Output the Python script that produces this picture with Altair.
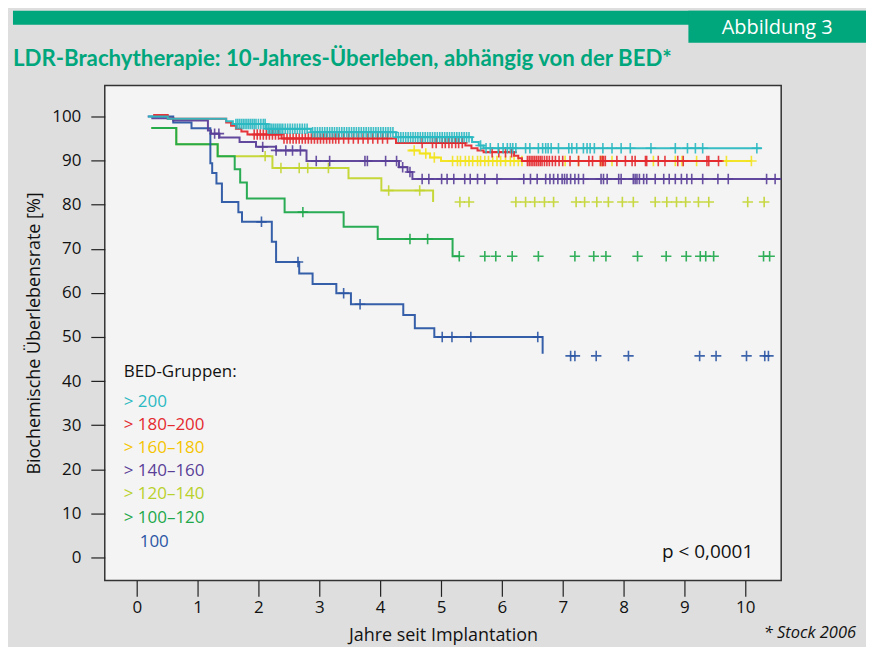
import altair as alt
import pandas as pd

# ---------------- data ----------------
GROUPS = ["> 200", "> 180–200", "> 160–180", "> 140–160", "> 120–140", "> 100–120", "100"]
LINE_COLORS = ["#2bb9c2", "#e42a2f", "#f2e31e", "#5a3f98", "#c3d52f", "#1ea84b", "#2b56a4"]
TEXT_COLORS = ["#2bb9c2", "#e42a2f", "#f5c400", "#5a3f98", "#b9d12b", "#1ea84b", "#2b56a4"]

# Kaplan-Meier step points (time in years, survival in %)
g200_t = [0.19, 0.51, 1.47, 1.58, 2.13, 2.86, 4.26, 5.51, 5.62, 5.70, 10.27]
g200_s = [100, 99.5, 98.9, 98.3, 97.2, 96.4, 95.3, 94.2, 93.4, 92.8, 92.8]
g200_c = {
    98.3: [1.63, 1.66, 1.69, 1.72, 1.75, 1.78, 1.81, 1.84, 1.87, 1.90, 1.93, 1.96, 2.00, 2.04, 2.08, 2.11],
    97.2: [2.16, 2.19, 2.22, 2.25, 2.28, 2.31, 2.34, 2.37, 2.40, 2.44, 2.48, 2.52, 2.56, 2.60, 2.64, 2.68, 2.72, 2.76, 2.80],
    96.4: [2.89, 2.93, 2.97, 3.01, 3.05, 3.09, 3.13, 3.17, 3.21, 3.25, 3.29, 3.33, 3.37, 3.41, 3.45, 3.49, 3.53,
           3.57, 3.61, 3.65, 3.69, 3.73, 3.77, 3.81, 3.85, 3.89, 3.93, 3.97, 4.01, 4.05, 4.09, 4.13, 4.17, 4.21],
    95.3: [4.30, 4.34, 4.38, 4.42, 4.46, 4.50, 4.54, 4.58, 4.62, 4.66, 4.70, 4.74, 4.78, 4.82, 4.86, 4.90, 4.94,
           4.98, 5.02, 5.06, 5.10, 5.14, 5.18, 5.22, 5.26, 5.30, 5.34, 5.38, 5.42, 5.46],
    93.4: [5.65],
    92.8: [5.74, 5.81, 5.94, 6.02, 6.09, 6.14, 6.18, 6.23, 6.39, 6.46, 6.60, 6.67, 6.72, 6.76, 6.81, 6.93, 7.10,
           7.15, 7.23, 7.34, 7.40, 7.45, 7.52, 7.66, 7.81, 7.96, 8.11, 8.45, 8.85, 9.05, 9.18, 9.30, 10.19],
}

g180_t = [0.27, 0.51, 1.47, 1.55, 1.63, 1.72, 1.82, 2.38, 4.26, 5.40, 5.50, 5.60, 5.70, 6.20, 6.27, 6.33, 9.62]
g180_s = [100.3, 99.5, 98.6, 97.9, 97.2, 96.6, 95.9, 95.0, 94.0, 93.4, 92.8, 92.3, 91.9, 91.1, 90.5, 89.9, 89.9]
g180_c = {
    95.9: [1.93, 1.98, 2.03, 2.08, 2.13, 2.18, 2.23, 2.28, 2.33],
    95.0: [2.42, 2.47, 2.52, 2.57, 2.62, 2.67, 2.72, 2.77, 2.82, 2.87, 2.92, 2.97, 3.02, 3.07, 3.12, 3.17, 3.22,
           3.27, 3.32, 3.40, 3.48, 3.56, 3.64, 3.72, 3.80, 3.88, 3.96, 4.04, 4.12],
    94.0: [4.69, 4.86, 4.92, 5.02, 5.07, 5.13, 5.18, 5.24, 5.29, 5.35],
    91.9: [5.84, 5.95, 6.06, 6.16],
    89.9: [6.42, 6.45, 6.48, 6.51, 6.54, 6.57, 6.60, 6.63, 6.66, 6.70, 6.74, 6.78, 6.83, 6.88, 6.94, 7.00, 7.12,
           7.26, 7.43, 7.49, 7.62, 7.65, 7.67, 7.70, 7.89, 8.03, 8.14, 8.19, 8.36, 8.38, 8.57, 8.68, 8.89, 8.98,
           9.37, 9.40, 9.56],
}

g160_t = [4.45, 4.65, 4.82, 5.00, 10.10]
g160_s = [92.3, 91.6, 90.7, 89.9, 89.9]
g160_c = {
    92.3: [4.56],
    91.6: [4.75],
    90.7: [4.89],
    89.9: [5.19, 5.27, 5.32, 5.40, 5.46, 5.52, 5.60, 5.65, 5.72, 5.78, 5.85, 5.92, 5.98, 6.06, 6.14, 6.20, 6.27,
           6.33, 7.04, 7.26, 7.62, 7.65, 7.81, 8.49, 8.85, 8.96, 9.20, 9.69, 10.10],
}

g140_t = [0.24, 0.60, 1.17, 1.22, 1.36, 1.69, 1.96, 2.29, 2.79, 4.31, 4.45, 4.53, 10.65]
g140_s = [99.6, 99.1, 96.8, 96.1, 95.2, 94.2, 93.1, 92.3, 89.9, 88.5, 87.4, 85.8, 85.8]
g140_c = {
    96.1: [1.28, 1.35],
    93.1: [2.07],
    92.3: [2.29, 2.45, 2.56, 2.69],
    89.9: [2.95, 3.17, 3.75, 3.79, 4.09, 4.27],
    88.5: [4.37],
    87.4: [4.49],
    85.8: [4.69, 4.80, 5.01, 5.10, 5.21, 5.39, 5.48, 5.60, 5.72, 5.92, 6.36, 6.47, 6.58, 6.72, 6.79, 6.85, 6.92,
           6.99, 7.03, 7.07, 7.13, 7.20, 7.26, 7.34, 7.63, 7.67, 7.73, 7.92, 7.96, 8.16, 8.19, 8.22, 8.26, 8.33,
           8.38, 8.52, 8.66, 8.75, 8.85, 8.95, 9.04, 9.12, 9.30, 9.55, 9.72, 10.35, 10.49],
}

g120_t = [0.24, 0.65, 1.33, 2.23, 3.48, 4.02, 4.87]
g120_s = [97.4, 93.7, 91.0, 88.3, 86.0, 83.2, 80.6]
g120_c = {
    91.0: [2.11],
    88.3: [2.37, 2.67, 2.81, 3.15],
    83.2: [4.14, 4.65],
    80.6: [5.31, 5.46, 6.23, 6.39, 6.54, 6.70, 6.85, 7.22, 7.36, 7.56, 7.75, 7.98, 8.16, 8.52, 8.71, 8.87, 9.02,
           9.23, 9.40, 10.04, 10.31],
}

g100_t = [0.24, 0.65, 1.33, 1.61, 1.70, 1.81, 2.43, 3.40, 3.96, 5.19, 5.31]
g100_s = [97.4, 93.7, 91.0, 88.0, 85.0, 81.4, 78.3, 75.0, 72.2, 68.3, 68.3]
g100_c = {
    78.3: [2.73],
    72.2: [4.49, 4.78],
    68.3: [5.30, 5.72, 5.90, 6.17, 6.60, 7.20, 7.51, 7.71, 8.23, 8.70, 9.03, 9.26, 9.35, 9.48, 10.30, 10.40],
}

gle100_t = [0.18, 0.60, 0.90, 1.21, 1.24, 1.31, 1.40, 1.67, 1.73, 2.22, 2.29, 2.67, 2.89, 3.28, 3.52, 4.38, 4.57, 4.89, 6.67]
gle100_s = [100, 98.6, 97.3, 89.4, 87.2, 84.8, 80.6, 78.3, 76.1, 71.6, 67.0, 64.4, 62.0, 59.9, 57.4, 55.0, 52.0, 50.0, 46.2]
gle100_c = {
    76.1: [2.05],
    67.0: [2.65],
    59.9: [3.40],
    57.4: [3.67],
    50.0: [5.02, 5.18, 5.49, 6.59],
    45.7: [7.13, 7.20, 7.55, 8.08, 9.25, 9.52, 10.02, 10.32, 10.38],
}

X_TICKS = list(range(0, 11))
Y_TICKS = list(range(0, 101, 10))

STEPS = {
    "> 200": (g200_t, g200_s, g200_c),
    "> 180–200": (g180_t, g180_s, g180_c),
    "> 160–180": (g160_t, g160_s, g160_c),
    "> 140–160": (g140_t, g140_s, g140_c),
    "> 120–140": (g120_t, g120_s, g120_c),
    "> 100–120": (g100_t, g100_s, g100_c),
    "100": (gle100_t, gle100_s, gle100_c),
}

# ---------------- styling ----------------
FONT = "Open Sans"
GREEN = "#00a67c"
W, H = 678, 496
PLUS = "M-1,0L1,0M0,-1L0,1"

XS = alt.Scale(domain=[-0.525, 10.59], nice=False, zero=False)
YS = alt.Scale(domain=[-5.2, 107], nice=False, zero=False)
XAX = alt.Axis(values=X_TICKS, title="Jahre seit Implantation", grid=False, domain=False,
               tickSize=16, tickColor="#222", tickWidth=1.2, labelFont=FONT, labelFontSize=17,
               labelColor="#111", labelPadding=3, titleFont=FONT, titleFontSize=18,
               titleFontWeight="normal", titleColor="#111", titlePadding=11)
YAX = alt.Axis(values=Y_TICKS, title="Biochemische Überlebensrate [%]", grid=False, domain=False,
               tickSize=14, tickColor="#222", tickWidth=1.2, labelFont=FONT, labelFontSize=17,
               labelColor="#111", labelPadding=10, titleFont=FONT, titleFontSize=18,
               titleFontWeight="normal", titleColor="#111", titlePadding=8)
X = alt.X("t:Q", scale=XS, axis=XAX)
Y = alt.Y("s:Q", scale=YS, axis=YAX)

one = pd.DataFrame({"k": [0]})

layers = []
draw_order = ["> 160–180", "> 120–140", "> 100–120", "100", "> 140–160", "> 180–200", "> 200"]
for g in draw_order:
    c = LINE_COLORS[GROUPS.index(g)]
    ts, ss, cens = STEPS[g]
    ldf = pd.DataFrame({"t": ts, "s": ss})
    layers.append(
        alt.Chart(ldf).mark_line(interpolate="step-after", strokeWidth=2, clip=True, opacity=0.95)
        .encode(x=X, y=Y, color=alt.value(c))
    )
    rows = [{"t": t, "s": lev} for lev, tl in cens.items() for t in tl]
    cdf = pd.DataFrame(rows)
    layers.append(
        alt.Chart(cdf).mark_point(shape=PLUS, size=110, filled=False, strokeWidth=1.6, opacity=0.9, clip=True)
        .encode(x=X, y=Y, color=alt.value(c))
    )

# decorations: header bar, tab, title
layers.append(alt.Chart(one).mark_rect(color=GREEN).encode(
    x=alt.value(-92), x2=alt.value(763), y=alt.value(-75), y2=alt.value(-61)))
layers.append(alt.Chart(one).mark_rect(color=GREEN).encode(
    x=alt.value(585), x2=alt.value(763), y=alt.value(-75), y2=alt.value(-43)))
layers.append(alt.Chart(one).mark_text(text="Abbildung 3", font=FONT, fontSize=20, color="white",
                                       align="center", baseline="middle").encode(
    x=alt.value(674), y=alt.value(-58)))
layers.append(alt.Chart(one).mark_text(text="LDR-Brachytherapie: 10-Jahres-Überleben, abhängig von der BED*",
                                       font="Lato", fontSize=22.3, fontWeight="bold",
                                       color=GREEN, align="left", baseline="middle").encode(
    x=alt.value(-92), y=alt.value(-27)))

# legend (coloured text)
layers.append(alt.Chart(one).mark_text(text="BED-Gruppen:", font=FONT, fontSize=17, color="#111",
                                       align="left", baseline="middle").encode(
    x=alt.value(19), y=alt.value(287)))
LEG_Y = [317, 340, 363, 386, 409, 433, 458]
for i, g in enumerate(GROUPS):
    layers.append(alt.Chart(one).mark_text(text=g, font=FONT, fontSize=17, color=TEXT_COLORS[i],
                                           align="left", baseline="middle").encode(
        x=alt.value(19 if g.startswith(">") else 35), y=alt.value(LEG_Y[i])))

layers.append(alt.Chart(one).mark_text(text="p < 0,0001", font=FONT, fontSize=19, color="#111",
                                       align="right", baseline="middle").encode(
    x=alt.value(650), y=alt.value(468)))
layers.append(alt.Chart(one).mark_text(text="* Stock 2006", font=FONT, fontSize=16.5, fontStyle="italic",
                                       color="#111", align="right", baseline="middle").encode(
    x=alt.value(753), y=alt.value(549)))

chart = alt.layer(*layers).properties(
    width=W, height=H,
    autosize=alt.AutoSizeParams(type="none"),
    padding={"left": 97, "top": 77, "right": 85, "bottom": 66},
    background="#dedede",
).configure_view(fill="#f4f4f4", stroke="#333", strokeWidth=1.5)

chart.save("out.html", embed_options={"renderer": "svg", "actions": False})
